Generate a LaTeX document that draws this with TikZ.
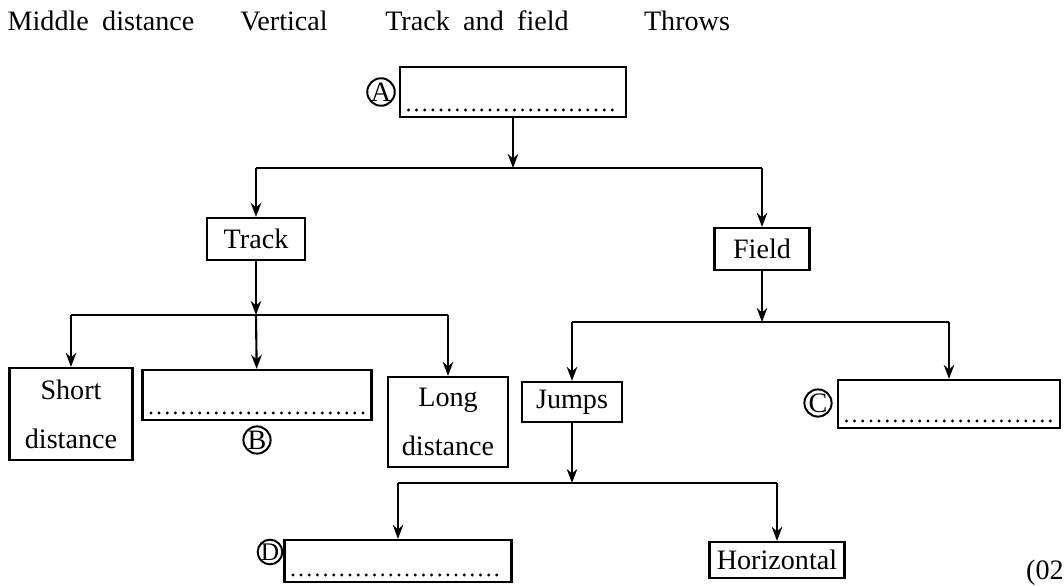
\documentclass[tikz,border=0pt]{standalone}
\usepackage{fontspec}
\setmainfont{Liberation Serif}
\newfontfamily\headfont{Liberation Serif}[WordSpace=1.9]
\usetikzlibrary{arrows.meta}

\begin{document}
\begin{tikzpicture}[x=0.025cm, y=-0.025cm,
  >={Stealth[length=10pt,width=7.5pt]},
  link/.style={line width=1.5pt},
  head/.style={font=\headfont\fontsize{20}{24}\selectfont},
  box/.style={draw, line width=1.6pt, inner sep=2pt, font=\fontsize{20}{24}\selectfont},
  tallbox/.style={box, align=center, font=\fontsize{20}{35}\selectfont},
  blankbox/.style={draw, line width=1.6pt, path picture={
    \draw[line width=2.3pt, line cap=round, dash pattern=on 0pt off 5.8pt]
      ([xshift=6pt,yshift=5pt]path picture bounding box.south west) --
      ([xshift=-5pt,yshift=5pt]path picture bounding box.south east);}},
  tag/.style={circle, draw, line width=1.4pt, minimum size=0.68cm, inner sep=0pt,
    font=\fontsize{20}{20}\selectfont}]

\useasboundingbox (0,0) rectangle (1064,585);

% Word list
\node[head] (w1) at (101,21) {Middle distance};
\node[head] (w2) at (284,21) {Vertical};
\node[head] (w3) at (477,21) {Track and field};
\node[head] (w4) at (687,21) {Throws};

% Top box A
\node[blankbox, minimum width=5.65cm, minimum height=1.25cm] (A) at (513,92) {};
\node[tag] (tA) at (381,92) {A};

% Track and Field
\node[box, minimum width=2.45cm, minimum height=1.05cm] (trk) at (256,239) {Track};
\node[box, minimum width=2.375cm, minimum height=1.05cm] (fld) at (762,249) {Field};

% Track branches
\node[tallbox, minimum width=3.075cm, minimum height=2.3cm] (sd) at (71,414) {Short\\distance};
\node[blankbox, minimum width=5.725cm, minimum height=1.25cm] (B) at (257,395) {};
\node[tag] (tB) at (257,440) {B};
\node[tallbox, minimum width=3.0cm, minimum height=2.25cm] (ld) at (448,422) {Long\\distance};

% Field branches
\node[box, minimum width=2.5cm, minimum height=1.0cm] (jmp) at (572,402) {Jumps};
\node[blankbox, minimum width=5.55cm, minimum height=1.2cm] (C) at (949,404) {};
\node[tag] (tC) at (818,403) {C};

% Jumps branches
\node[blankbox, minimum width=5.675cm, minimum height=1.05cm] (D) at (398,561) {};
\node[tag, minimum size=0.6cm, font=\fontsize{18}{18}\selectfont] (tD) at (270,552) {D};
\node[box, minimum width=3.375cm, minimum height=0.9cm] (hor) at (777,560) {Horizontal};

\node[head, anchor=east, inner sep=0pt] (mk) at (1064,573) {(02};

% Junctions
\coordinate (jA) at (513,168);
\coordinate (jT) at (256,315);
\coordinate (jF) at (762,322);
\coordinate (jJ) at (572,483);

% A to Track / Field
\draw[->, link] (A) -- (jA);
\draw[link] (trk.north |- jA) -- (fld.north |- jA);
\draw[->, link] (trk.north |- jA) -- (trk);
\draw[->, link] (fld.north |- jA) -- (fld);

% Track to its kinds
\draw[->, link] (trk) -- (jT);
\draw[link] (sd.north |- jT) -- (ld.north |- jT);
\draw[->, link] (sd.north |- jT) -- (sd);
\draw[->, link] (jT) -- (B);
\draw[->, link] (ld.north |- jT) -- (ld);

% Field to its kinds
\draw[->, link] (fld) -- (jF);
\draw[link] (jmp.north |- jF) -- (C.north |- jF);
\draw[->, link] (jmp.north |- jF) -- (jmp);
\draw[->, link] (C.north |- jF) -- (C);

% Jumps to its kinds
\draw[->, link] (jmp) -- (jJ);
\draw[link] (D.north |- jJ) -- (hor.north |- jJ);
\draw[->, link] (D.north |- jJ) -- (D);
\draw[->, link] (hor.north |- jJ) -- (hor);

\end{tikzpicture}
\end{document}
